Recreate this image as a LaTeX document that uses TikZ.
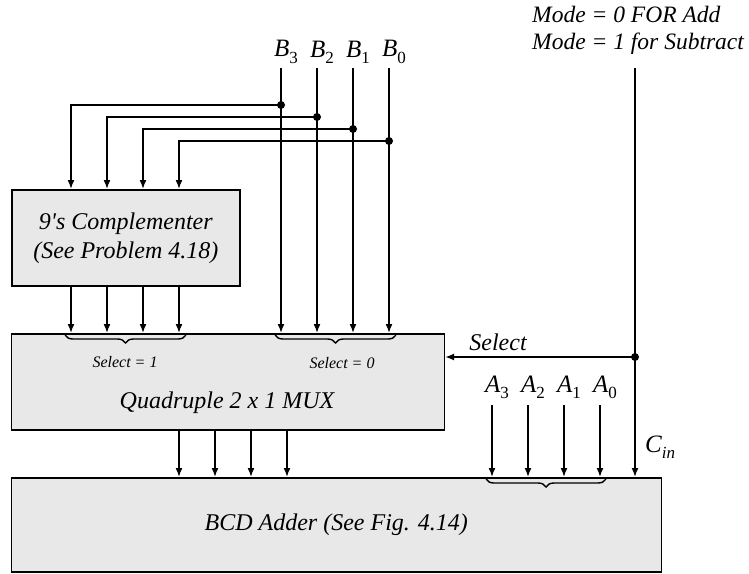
\documentclass[tikz,border=0pt]{standalone}
\usepackage{fontspec}
\setmainfont{Liberation Serif}
\usetikzlibrary{arrows.meta, positioning, calc, decorations.pathreplacing}
\definecolor{blockgray}{RGB}{232,232,232}
\newcommand{\bitlbl}[2]{#1\raisebox{-0.55ex}{\fontsize{17}{17}\selectfont #2}}

\begin{document}
\begin{tikzpicture}[x=1pt, y=-1pt,
    every node/.style={font=\itshape\fontsize{24}{29}\selectfont, inner sep=0pt},
    blockbox/.style={draw, line width=1.6pt, fill=blockgray, anchor=north west},
    wire/.style={line width=1.6pt},
    bus/.style={wire, -{Latex[length=9pt,width=7pt]}},
    tapdot/.style={circle, fill, minimum size=8pt},
    busbrace/.style={decorate, decoration={brace, mirror, amplitude=8pt}, line width=1.4pt},
    smalllbl/.style={font=\itshape\fontsize{16}{16}\selectfont},
    bitnode/.style={font=\itshape\fontsize{25}{25}\selectfont}]
  \useasboundingbox (0,0) rectangle (749,573);

  % Blocks
  \node[blockbox, minimum width=228pt, minimum height=96pt, align=center] (comp) at (11,189)
    {9\textquotesingle s Complementer\\(See Problem 4.18)};
  \node[blockbox, minimum width=433pt, minimum height=96pt] (mux) at (10.5,333) {};
  \node (muxlbl) at (227,403) {Quadruple 2 x 1 MUX};
  \node[blockbox, minimum width=650pt, minimum height=94pt] (bcd) at (10.5,477)
    {BCD Adder (See Fig. 4.14)};

  % B inputs and taps to the complementer
  \foreach \i/\x/\y/\cx in {3/281/105/71, 2/317/117/107, 1/353/129/143, 0/389/141/179} {
    \node[bitnode] (b\i) at (\x+5,52) {\bitlbl{B}{\upshape\i}};
    \coordinate (bt\i) at (\x,68);
    \draw[bus] (bt\i) -- (bt\i |- mux.north);
    \node[tapdot] (tap\i) at (\x,\y) {};
    \draw[bus] (tap\i.center) -| (\cx,0 |- comp.north);
    \draw[bus] (\cx,0 |- comp.south) -- (\cx,0 |- mux.north);
  }

  % MUX outputs
  \foreach \x in {179,215,251,287} {
    \draw[bus] (\x,0 |- mux.south) -- (\x,0 |- bcd.north);
  }

  % Braces
  \draw[busbrace] (65,335) -- (186,335);
  \draw[busbrace] (275,335) -- (396,335);
  \draw[busbrace] (486,479) -- (606,479);
  \node[smalllbl] (sel1) at (125,362) {Select = 1};
  \node[smalllbl] (sel0) at (342,363) {Select = 0};

  % Mode line
  \node[align=left, anchor=west, font=\itshape\fontsize{23.5}{27}\selectfont] (mode) at (532,30.5)
    {Mode = 0 FOR Add\\Mode = 1 for Subtract};
  \coordinate (modetop) at (635,68);
  \node[tapdot] (seldot) at (635,357) {};
  \draw[bus] (modetop) -- (modetop |- bcd.north);
  \draw[bus] (seldot.center) -- (seldot -| mux.east);
  \node (sellbl) at (498,342) {Select};
  \node[bitnode, anchor=west] (cinlbl) at (645,447) {\bitlbl{C}{in}};

  % A inputs
  \foreach \i/\x in {3/492, 2/528, 1/564, 0/600} {
    \node[bitnode] (a\i) at (\x+5,387) {\bitlbl{A}{\upshape\i}};
    \coordinate (at\i) at (\x,405);
    \draw[bus] (at\i) -- (at\i |- bcd.north);
  }
\end{tikzpicture}
\end{document}
